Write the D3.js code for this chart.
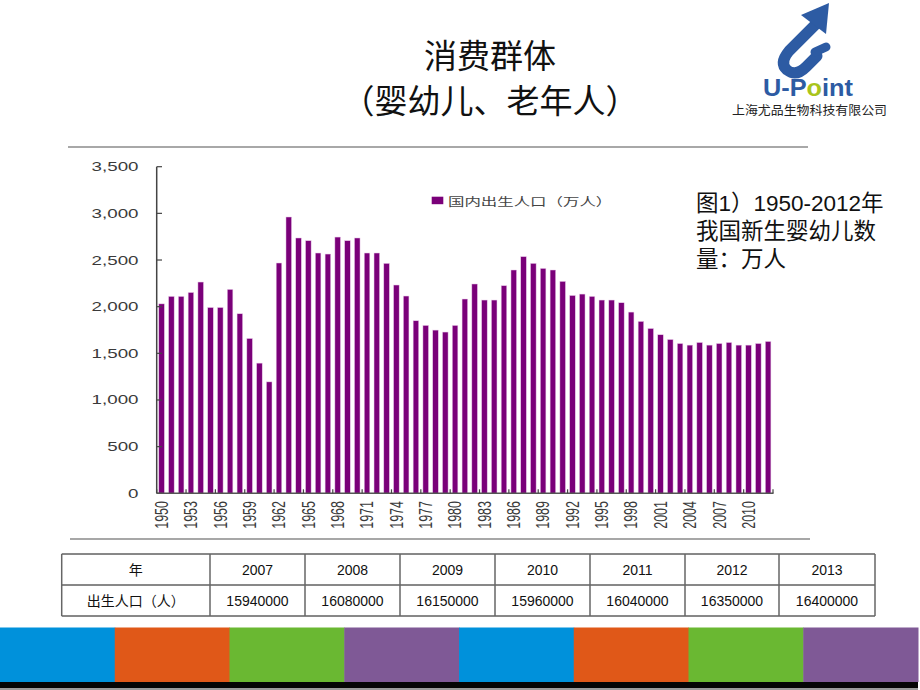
<!DOCTYPE html>
<html>
<head>
<meta charset="utf-8">
<script src="https://cdn.jsdelivr.net/npm/d3@7/dist/d3.min.js"></script>
<style>
  html, body { margin: 0; padding: 0; background: #fff; }
  svg { display: block; }
</style>
</head>
<body>
<script>
// ---------- data ----------
const years = [1950,1951,1952,1953,1954,1955,1956,1957,1958,1959,
  1960,1961,1962,1963,1964,1965,1966,1967,1968,1969,
  1970,1971,1972,1973,1974,1975,1976,1977,1978,1979,
  1980,1981,1982,1983,1984,1985,1986,1987,1988,1989,
  1990,1991,1992,1993,1994,1995,1996,1997,1998,1999,
  2000,2001,2002,2003,2004,2005,2006,2007,2008,2009,
  2010,2011,2012];
const births = [2030,2110,2110,2152,2264,1991,1991,2185,1924,1659,
  1395,1194,2468,2961,2736,2707,2575,2564,2746,2707,
  2736,2575,2575,2464,2232,2114,1849,1799,1749,1728,
  1799,2082,2243,2071,2071,2225,2393,2536,2464,2410,
  2393,2271,2120,2135,2110,2071,2071,2042,1942,1842,
  1766,1699,1648,1605,1588,1616,1588,1605,1616,1588,
  1588,1605,1627];
const yTicks = [0,500,1000,1500,2000,2500,3000,3500];
const legendLabel = "国内出生人口（万人）";
const titleLines = ["消费群体", "（婴幼儿、老年人）"];
const noteLines = ["图1）1950-2012年", "我国新生婴幼儿数", "量：万人"];
const tableYears = ["年","2007","2008","2009","2010","2011","2012","2013"];
const tableBirths = ["出生人口（人）","15940000","16080000","16150000","15960000","16040000","16350000","16400000"];
const stripeColors = ["#0091db","#e05818","#6ab832","#7f5996","#0091db","#e05818","#6ab832","#7f5996"];

// ---------- svg ----------
const W = 920, H = 690;
const svg = d3.select("body").append("svg").attr("width", W).attr("height", H);
const CJK = "'Noto Sans CJK SC', 'Noto Sans', sans-serif";
const LAT = "'Liberation Sans', Arial, 'Noto Sans CJK SC', sans-serif";

// title
svg.selectAll("text.title").data(titleLines).enter().append("text")
  .attr("class","title")
  .attr("x", 490).attr("y", (d,i) => 68 + i*45)
  .attr("text-anchor","middle")
  .attr("font-family", CJK).attr("font-size", 33).attr("fill","#111")
  .text(d => d);

// logo
const logo = svg.append("g");
logo.append("path")
  .attr("d","M816,24 L789,51 Q779,63 787,70 Q796,77 806,67 L817,56")
  .attr("fill","none").attr("stroke","#2d5ba3").attr("stroke-width",11)
  .attr("stroke-linecap","round").attr("stroke-linejoin","round");
logo.append("path")
  .attr("d","M801,15 L829,3 L826,34 Z").attr("fill","#2d5ba3");
logo.append("path")
  .attr("d","M815,52 L826,47").attr("stroke","#2d5ba3").attr("stroke-width",9)
  .attr("stroke-linecap","round");
const lt = logo.append("text").attr("x", 763).attr("y", 96)
  .attr("font-family", LAT).attr("font-weight","bold").attr("font-size", 23)
  .attr("fill","#2d5ba3").attr("textLength", 90).attr("lengthAdjust","spacingAndGlyphs");
lt.append("tspan").text("U-P");
lt.append("tspan").attr("fill","#a9c41c").text("o");
lt.append("tspan").text("int");
logo.append("text").attr("x", 732).attr("y", 115)
  .attr("font-family", CJK).attr("font-size", 12.5).attr("fill","#222")
  .attr("textLength", 155).attr("lengthAdjust","spacingAndGlyphs")
  .text("上海尤品生物科技有限公司");

// frame lines of chart picture
svg.append("line").attr("x1",68).attr("x2",808).attr("y1",147).attr("y2",147)
  .attr("stroke","#a8a8a8").attr("stroke-width",2);
svg.append("line").attr("x1",70).attr("x2",810).attr("y1",539).attr("y2",539)
  .attr("stroke","#8a8a8a").attr("stroke-width",1.5);

// ---------- chart ----------
const x = d3.scaleBand().domain(years).range([156.7, 773]).paddingInner(0.43).paddingOuter(0.215);
const y = d3.scaleLinear().domain([0, 3500]).range([493.3, 166.7]);
const gap = (x.step() - x.bandwidth()) / 2;

svg.append("g").selectAll("rect").data(years).enter().append("rect")
  .attr("x", d => x(d)).attr("width", x.bandwidth())
  .attr("y", (d,i) => y(births[i])).attr("height", (d,i) => y(0) - y(births[i]))
  .attr("fill","#7a0079").attr("stroke","#e9c9e9").attr("stroke-width",0.5);

// y axis
svg.append("line").attr("x1",156.7).attr("x2",156.7).attr("y1",y(3500)).attr("y2",y(0))
  .attr("stroke","#444").attr("stroke-width",1.5);
svg.append("g").selectAll("line").data(yTicks).enter().append("line")
  .attr("x1",156.7).attr("x2",162).attr("y1",d=>y(d)).attr("y2",d=>y(d))
  .attr("stroke","#444").attr("stroke-width",1.2);
svg.append("g").selectAll("g").data(yTicks).enter().append("g")
  .attr("transform", d => `translate(138.5,${y(d)}) scale(1.5,1)`)
  .append("text").attr("text-anchor","end").attr("dy","0.36em")
  .attr("font-family", LAT).attr("font-size", 12.5).attr("fill","#3a3a3a")
  .text(d => d3.format(",")(d));

// x axis
svg.append("line").attr("x1",156.7).attr("x2",773.5).attr("y1",y(0)).attr("y2",y(0))
  .attr("stroke","#555").attr("stroke-width",1.5);
const tickYears = years.filter((d,i) => i % 3 === 0);
svg.append("g").selectAll("line").data(tickYears.concat([null])).enter().append("line")
  .attr("x1", d => d === null ? 773 : x(d) - gap).attr("x2", d => d === null ? 773 : x(d) - gap)
  .attr("y1", y(0) - 4).attr("y2", y(0))
  .attr("stroke","#444").attr("stroke-width",1.2);
svg.append("g").selectAll("g").data(tickYears).enter().append("g")
  .attr("transform", d => `translate(${x(d) + x.bandwidth()/2},501) scale(1.4,1) rotate(-90)`)
  .append("text").attr("text-anchor","end").attr("dy","0.36em")
  .attr("font-family", LAT).attr("font-size", 12.5).attr("fill","#3a3a3a")
  .text(d => d);

// legend
svg.append("rect").attr("x",431.7).attr("y",196.7).attr("width",11.6).attr("height",7.5)
  .attr("fill","#7a0079");
svg.append("g").attr("transform","translate(448,205.5) scale(1.43,1)")
  .append("text").attr("font-family", CJK).attr("font-size", 11.5).attr("fill","#444")
  .text(legendLabel);

// note
svg.selectAll("text.note").data(noteLines).enter().append("text")
  .attr("class","note").attr("x", 696).attr("y", (d,i) => 211 + i*28)
  .attr("font-family", LAT).attr("font-size", 22.5).attr("fill","#111")
  .text(d => d);

// ---------- table ----------
const colX = [61.7, 210, 305, 400, 495, 590, 685, 779, 875];
const rowY = [554, 585, 616];
const tg = svg.append("g");
tg.selectAll("line.h").data(rowY).enter().append("line")
  .attr("x1", colX[0]).attr("x2", colX[colX.length-1]).attr("y1", d=>d).attr("y2", d=>d)
  .attr("stroke","#111").attr("stroke-width",1);
tg.selectAll("line.v").data(colX).enter().append("line")
  .attr("y1", rowY[0]).attr("y2", rowY[2]).attr("x1", d=>d).attr("x2", d=>d)
  .attr("stroke","#666").attr("stroke-width",1.5);
[tableYears, tableBirths].forEach((row, r) => {
  tg.selectAll("text.r"+r).data(row).enter().append("text")
    .attr("x", (d,i) => (colX[i] + colX[i+1]) / 2)
    .attr("y", (rowY[r] + rowY[r+1]) / 2 + 5)
    .attr("text-anchor","middle")
    .attr("font-family", (d,i) => i === 0 ? CJK : LAT)
    .attr("font-size", 14).attr("fill","#111")
    .text(d => d);
});

// ---------- bottom stripe ----------
const sx = d3.scaleBand().domain(d3.range(stripeColors.length)).range([0, 918]);
svg.append("g").selectAll("rect").data(stripeColors).enter().append("rect")
  .attr("x", (d,i) => sx(i)).attr("width", sx.bandwidth() + 0.5)
  .attr("y", 627.5).attr("height", 54.5).attr("fill", d => d);
svg.append("rect").attr("x",0).attr("y",682).attr("width",918).attr("height",6).attr("fill","#050505");
svg.append("rect").attr("x",0).attr("y",688).attr("width",918).attr("height",2).attr("fill","#9a9a9a");
</script>
</body>
</html>
